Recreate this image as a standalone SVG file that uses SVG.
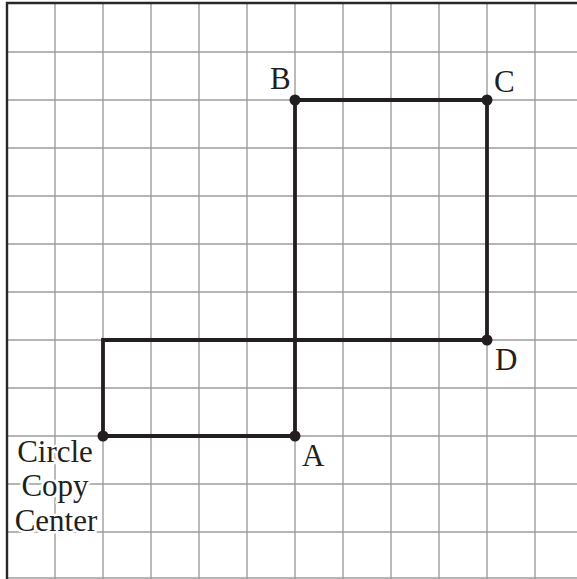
<svg xmlns="http://www.w3.org/2000/svg" width="577" height="579" viewBox="0 0 577 579">
<style>
.grid line{stroke:#9d9d9d;stroke-width:1.4}
.frame{stroke:#2b2728;stroke-width:2.4;fill:none}
.edge{stroke:#231f20;stroke-width:3.8;fill:none;stroke-linecap:square}
.pt{fill:#231f20}
text{font-family:"Liberation Serif","Times New Roman",serif;font-size:31px;fill:#231f20}
.halo{stroke:#fff;stroke-width:5;paint-order:stroke;stroke-linejoin:round}
</style>
<rect width="577" height="579" fill="#fff"/>
<g class="grid" id="grid">
<line x1="55" y1="3" x2="55" y2="579"/>
<line x1="103" y1="3" x2="103" y2="579"/>
<line x1="151" y1="3" x2="151" y2="579"/>
<line x1="199" y1="3" x2="199" y2="579"/>
<line x1="247" y1="3" x2="247" y2="579"/>
<line x1="295" y1="3" x2="295" y2="579"/>
<line x1="343" y1="3" x2="343" y2="579"/>
<line x1="391" y1="3" x2="391" y2="579"/>
<line x1="439" y1="3" x2="439" y2="579"/>
<line x1="487" y1="3" x2="487" y2="579"/>
<line x1="535" y1="3" x2="535" y2="579"/>
<line x1="7" y1="52" x2="577" y2="52"/>
<line x1="7" y1="100" x2="577" y2="100"/>
<line x1="7" y1="148" x2="577" y2="148"/>
<line x1="7" y1="196" x2="577" y2="196"/>
<line x1="7" y1="244" x2="577" y2="244"/>
<line x1="7" y1="292" x2="577" y2="292"/>
<line x1="7" y1="340" x2="577" y2="340"/>
<line x1="7" y1="388" x2="577" y2="388"/>
<line x1="7" y1="436" x2="577" y2="436"/>
<line x1="7" y1="484" x2="577" y2="484"/>
<line x1="7" y1="532" x2="577" y2="532"/>
<line x1="7" y1="578" x2="577" y2="578"/>
</g>
<path class="frame" d="M7,579 V3 H577"/>
<g id="connectors">
<path class="edge" d="M103,436 V340 H487 V100 H295 V436 Z"/>
</g>
<g id="A"><circle class="pt" cx="295" cy="436" r="5.5"/><text x="302" y="466">A</text></g>
<g id="B"><circle class="pt" cx="295" cy="100" r="5.5"/><text x="270" y="89">B</text></g>
<g id="C"><circle class="pt" cx="487" cy="100" r="5.5"/><text x="494" y="92">C</text></g>
<g id="D"><circle class="pt" cx="487" cy="340" r="5.5"/><text x="495" y="370">D</text></g>
<g id="center"><circle class="pt" cx="103" cy="436" r="5.5"/>
<text class="halo" x="55" y="462" text-anchor="middle">Circle</text>
<text class="halo" x="55" y="496" text-anchor="middle">Copy</text>
<text class="halo" x="56" y="531" text-anchor="middle">Center</text>
</g>
</svg>
